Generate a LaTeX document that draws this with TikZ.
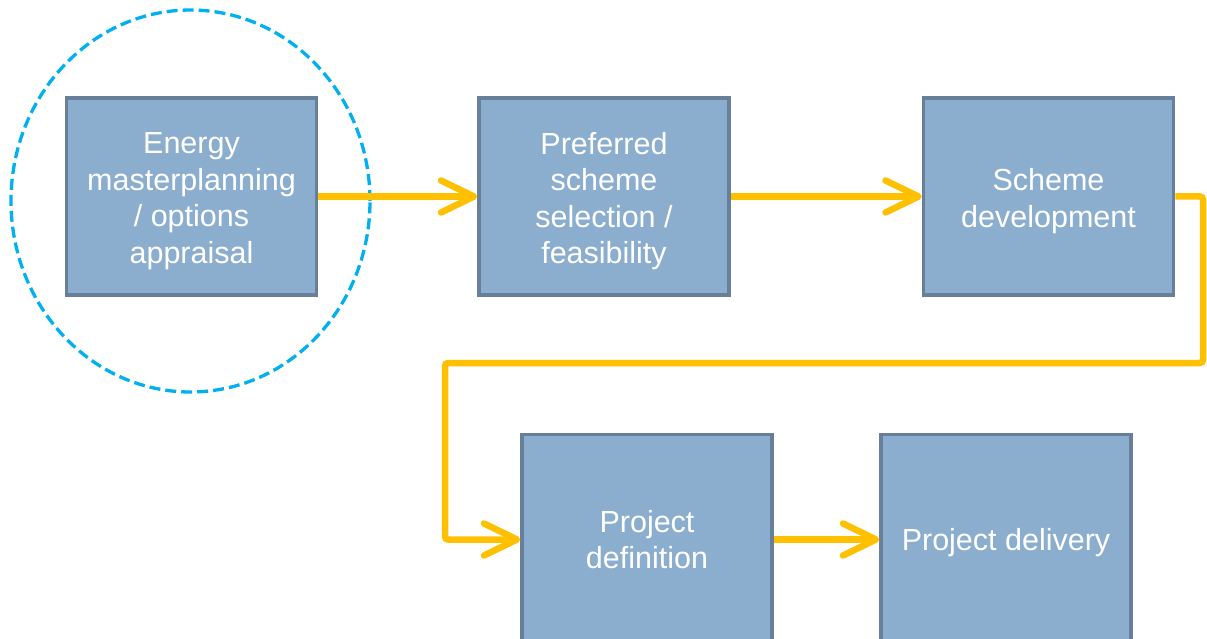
\documentclass[tikz,border=0pt]{standalone}
\usepackage{fontspec}
\setmainfont{Liberation Sans}
\usetikzlibrary{arrows.meta,shapes.geometric}
\definecolor{boxfill}{RGB}{139,173,206}
\definecolor{boxline}{RGB}{103,127,153}
\definecolor{flow}{RGB}{255,192,0}
\definecolor{ring}{RGB}{0,176,240}
\tikzset{
  stagebox/.style={draw=boxline, fill=boxfill, line width=3.5pt, minimum width=250pt,
    inner sep=0pt},
  stagetext/.style={text=white, align=center, inner sep=0pt,
    font=\fontsize{30.5}{36.5}\selectfont},
  flowline/.style={draw=flow, line width=6.5pt,
    -{Straight Barb[length=33pt,width=32pt,round]}},
}
\begin{document}
\begin{tikzpicture}[x=1pt,y=-1pt]
\useasboundingbox (0,0) rectangle (1207,639);
\clip (0,0) rectangle (1207,639);
\node[stagebox, minimum height=197pt] (b1) at (191.5,196.5) {};
\node[stagebox, minimum height=197pt] (b2) at (604,196.5) {};
\node[stagebox, minimum height=197pt] (b3) at (1048.5,196.5) {};
\node[stagebox, minimum height=210pt] (b4) at (647,539.5) {};
\node[stagebox, minimum height=210pt] (b5) at (1006,539.5) {};
\node[stagetext] (b1t) at ([yshift=-4.5pt]b1.center) {Energy\\masterplanning\\/ options\\appraisal};
\node[stagetext] (b2t) at ([yshift=-4.5pt]b2.center) {Preferred\\scheme\\selection /\\feasibility};
\node[stagetext] (b3t) at ([yshift=-4.5pt]b3.center) {Scheme\\development};
\node[stagetext] (b4t) at ([yshift=0pt]b4.center) {Project\\definition};
\node[stagetext] (b5t) at ([yshift=-3.5pt]b5.center) {Project delivery};
\node[ellipse, draw=ring, line width=3.3pt, dash pattern=on 11pt off 5pt,
  minimum width=359pt, minimum height=382pt, inner sep=0pt] (focus) at (190.5,201) {};
\coordinate (t1) at (1203,363);
\coordinate (t2) at (445,363);
\draw[flowline] (b1.east) -- (b2.west);
\draw[flowline] (b2.east) -- (b3.west);
\draw[flowline, rounded corners=3pt] (b3.east) -| (t1) -- (t2) |- (b4.west);
\draw[flowline] (b4.east) -- (b5.west);
\end{tikzpicture}
\end{document}
